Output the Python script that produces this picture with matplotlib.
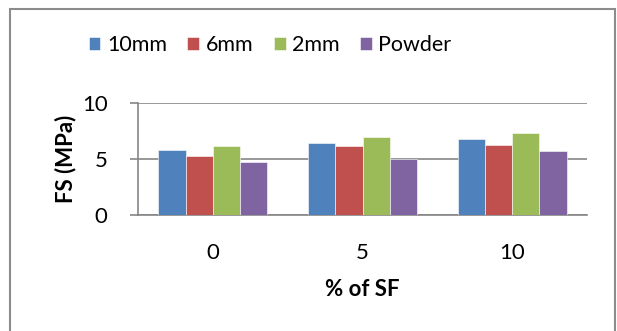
import numpy as np
import matplotlib.pyplot as plt
from matplotlib.patches import Rectangle

plt.rcParams['font.family'] = ['Lato', 'DejaVu Sans']

# % of silica fume and flexural strength per fibre size
sf_levels = ['0', '5', '10']
series = ['10mm', '6mm', '2mm', 'Powder']
fs_10mm = [5.76, 6.38, 6.74]
fs_6mm = [5.28, 6.14, 6.26]
fs_2mm = [6.14, 6.95, 7.27]
fs_powder = [4.72, 4.99, 5.67]
colors = ['#4F81BD', '#C0504D', '#9BBB59', '#8064A2']

fig = plt.figure(figsize=(6.17, 3.31), dpi=100)
ax = fig.add_axes([0.2237, 0.3505, 0.7277, 0.3392])

x = np.arange(len(sf_levels))
w = 0.182
for i, (vals, name) in enumerate(zip([fs_10mm, fs_6mm, fs_2mm, fs_powder], series)):
    ax.bar(x + (i - 1.5) * w, vals, w, color=colors[i], label=name,
           edgecolor='white', linewidth=0.4, zorder=3)

ax.set_xlim(-0.5, 2.5)
ax.set_ylim(0, 10)
ax.set_yticks([0, 5, 10])
ax.set_xticks(x)
ax.set_xticklabels(sf_levels)
ax.yaxis.grid(True, color='#868686', linewidth=1.2, zorder=0)
for s in ['top', 'right']:
    ax.spines[s].set_visible(False)
for s in ['left', 'bottom']:
    ax.spines[s].set_color('#868686')
    ax.spines[s].set_linewidth(1.2)
ax.tick_params(axis='y', length=6, width=1.2, color='#868686', labelsize=16, pad=16)
ax.tick_params(axis='x', length=0, labelsize=16, pad=20)
ax.set_ylabel('FS (MPa)', fontsize=16, fontweight='bold', labelpad=4)
ax.set_xlabel('% of SF', fontsize=16, fontweight='bold', labelpad=12)

fig.legend(loc='center', bbox_to_anchor=(270 / 617, 1 - 45 / 331), ncol=4,
           frameon=False, fontsize=15.5, handlelength=0.55, handleheight=0.55,
           handletextpad=0.3, columnspacing=0.95)

# chart frame
fig.patches.append(Rectangle((10 / 617, -0.1), 605 / 617, 1.1 - 9 / 331,
                             transform=fig.transFigure, fill=False,
                             edgecolor='#8c8c8c', linewidth=1.5))

fig.savefig('out.png', dpi=100)
